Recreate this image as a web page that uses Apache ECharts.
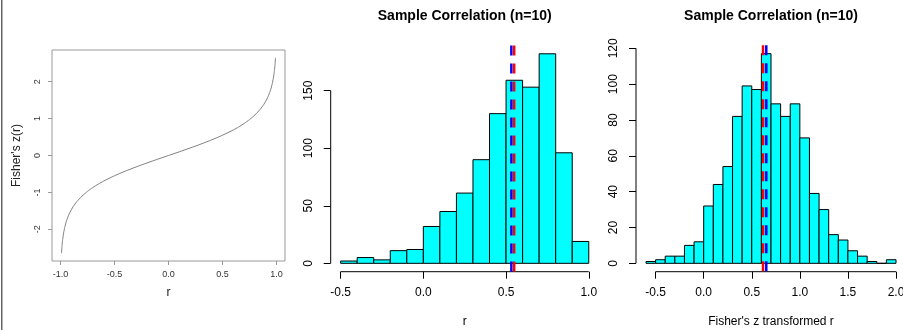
<!DOCTYPE html>
<html>
<head>
<meta charset="utf-8">
<script src="https://cdn.jsdelivr.net/npm/echarts@6/dist/echarts.min.js"></script>
<style>html,body{margin:0;padding:0;background:#fff;}#c{width:903px;height:330px;}</style>
</head>
<body>
<div id="c"></div>
<script>
// ---- data ----
const curveR = [-0.99,-0.985,-0.98,-0.975,-0.97,-0.96,-0.95,-0.94,-0.92,-0.9,-0.88,-0.85,-0.8,-0.75,-0.7,-0.65,-0.6,-0.5,-0.4,-0.3,-0.2,-0.1,0,0.1,0.2,0.3,0.4,0.5,0.6,0.65,0.7,0.75,0.8,0.85,0.88,0.9,0.92,0.94,0.95,0.96,0.97,0.975,0.98,0.985,0.99];
const curveZ = [-2.647,-2.443,-2.298,-2.185,-2.092,-1.946,-1.832,-1.738,-1.589,-1.472,-1.376,-1.256,-1.099,-0.973,-0.867,-0.775,-0.693,-0.549,-0.424,-0.310,-0.203,-0.100,0,0.100,0.203,0.310,0.424,0.549,0.693,0.775,0.867,0.973,1.099,1.256,1.376,1.472,1.589,1.738,1.832,1.946,2.092,2.185,2.298,2.443,2.647];
const leftXTicks = [-1,-0.5,0,0.5,1];
const leftYTicks = [-2,-1,0,1,2];

const midBreaks = [-0.5,-0.4,-0.3,-0.2,-0.1,0,0.1,0.2,0.3,0.4,0.5,0.6,0.7,0.8,0.9,1.0];
const midCounts = [2,5,3,11,12,32,45,61,90,130,159,153,182,96,19];
const midXTicks = [-0.5,0,0.5,1.0];
const midYTicks = [0,50,100,150];
const midBlue = 0.532, midRed = 0.549;

const rightBreaks = [-0.6,-0.5,-0.4,-0.3,-0.2,-0.1,0,0.1,0.2,0.3,0.4,0.5,0.6,0.7,0.8,0.9,1.0,1.1,1.2,1.3,1.4,1.5,1.6,1.7,1.8,1.9,2.0];
const rightCounts = [1,2,4,4,10,12,32,44,54,82,99,97,117,89,82,89,70,39,30,16,13,7,4,1,0,2];
const rightXTicks = [-0.5,0,0.5,1.0,1.5,2.0];
const rightYTicks = [0,20,40,60,80,100,120];
const rightRed = 0.617, rightBlue = 0.651;

const titleText = 'Sample Correlation (n=10)';

// ---- helpers ----
const FONT = '"Liberation Sans", Arial, Helvetica, sans-serif';
function ext(lo, hi){ const d=(hi-lo)*0.04; return [lo-d, hi+d]; }
const leftXr = [-1.078, 1.078];
const leftYr = ext(Math.min(...curveZ), Math.max(...curveZ));
const midXr = ext(midBreaks[0], midBreaks[midBreaks.length-1]);
const midYr = ext(0, Math.max(...midCounts));
const rightXr = ext(rightBreaks[0], rightBreaks[rightBreaks.length-1]);
const rightYr = ext(0, Math.max(...rightCounts));

function histData(br, ct){ return ct.map((c,i)=>[br[i], br[i+1], c]); }
function renderHist(params, api){
  const p0 = api.coord([api.value(0), api.value(2)]);
  const p1 = api.coord([api.value(1), 0]);
  return {type:'rect', shape:{x:p0[0], y:p0[1], width:p1[0]-p0[0], height:p1[1]-p0[1]},
    style:{fill:'#00FFFF', stroke:'#000', lineWidth:1}};
}
function fmt1(v){ return Number(v).toFixed(1); }

function xAxisCfg(idx, range, ticks, opts){
  return Object.assign({
    type:'value', gridIndex:idx, min:range[0], max:range[1],
    axisLine:{show:false, onZero:false}, splitLine:{show:false},
    axisTick:{show:true, inside:false, length:7, customValues:ticks, lineStyle:{color:'#000', width:1}},
    axisLabel:{show:true, customValues:ticks, margin:15, fontSize:12, fontFamily:FONT, color:'#000', formatter:fmt1}
  }, opts||{});
}
function yAxisCfg(idx, range, ticks, opts){
  return Object.assign({
    type:'value', gridIndex:idx, min:range[0], max:range[1],
    axisLine:{show:false, onZero:false}, splitLine:{show:false},
    axisTick:{show:true, inside:false, length:7, customValues:ticks, lineStyle:{color:'#000', width:1}},
    axisLabel:{show:true, customValues:ticks, rotate:90, margin:16, fontSize:12, fontFamily:FONT, color:'#000', formatter:v=>String(v)}
  }, opts||{});
}
function axisSeg(xi, yi, pts){
  return {type:'line', xAxisIndex:xi, yAxisIndex:yi, data:pts, symbol:'none', silent:true, clip:false,
    lineStyle:{color:'#000', width:1}, z:5, animation:false};
}
function vline(xi, yi, x, yr, color){
  return {type:'line', xAxisIndex:xi, yAxisIndex:yi, data:[[x, yr[1]],[x, yr[0]]], symbol:'none', silent:true,
    lineStyle:{color:color, width:2.5, type:[10,8], cap:'butt'}, z:10, animation:false};
}

const chart = echarts.init(document.getElementById('c'), null, {renderer:'canvas'});
chart.setOption({
  animation:false,
  backgroundColor:'#fff',
  textStyle:{fontFamily:FONT},
  grid:[
    {left:52, top:50, width:233, height:211, show:true, borderColor:'#999', borderWidth:1, backgroundColor:'transparent', containLabel:false, outerBoundsMode:'none'},
    {left:330.7, top:45.4, width:268, height:226.3, containLabel:false, outerBoundsMode:'none'},
    {left:636, top:45.3, width:270, height:226.4, containLabel:false, outerBoundsMode:'none'}
  ],
  xAxis:[
    xAxisCfg(0, leftXr, leftXTicks, {
      axisTick:{show:true, inside:false, length:4, customValues:leftXTicks, lineStyle:{color:'#999', width:1}},
      axisLabel:{show:true, customValues:leftXTicks, margin:9, fontSize:9, fontFamily:FONT, color:'#333', formatter:fmt1}
    }),
    xAxisCfg(1, midXr, midXTicks),
    xAxisCfg(2, rightXr, rightXTicks)
  ],
  yAxis:[
    yAxisCfg(0, leftYr, leftYTicks, {
      axisTick:{show:true, inside:false, length:4, customValues:leftYTicks, lineStyle:{color:'#999', width:1}},
      axisLabel:{show:true, customValues:leftYTicks, rotate:90, margin:10, fontSize:9, fontFamily:FONT, color:'#333', formatter:v=>String(v)}
    }),
    yAxisCfg(1, midYr, midYTicks),
    yAxisCfg(2, rightYr, rightYTicks)
  ],
  series:[
    {type:'line', xAxisIndex:0, yAxisIndex:0, data:curveR.map((r,i)=>[r, curveZ[i]]), symbol:'none', smooth:0.2,
      lineStyle:{color:'#808080', width:1}, silent:true},
    {type:'custom', xAxisIndex:1, yAxisIndex:1, data:histData(midBreaks, midCounts), renderItem:renderHist, encode:{x:[0,1], y:2}, silent:true},
    {type:'custom', xAxisIndex:2, yAxisIndex:2, data:histData(rightBreaks, rightCounts), renderItem:renderHist, encode:{x:[0,1], y:2}, silent:true},
    axisSeg(1,1,[[midXTicks[0], midYr[0]],[midXTicks[midXTicks.length-1], midYr[0]]]),
    axisSeg(1,1,[[midXr[0], midYTicks[0]],[midXr[0], midYTicks[midYTicks.length-1]]]),
    axisSeg(2,2,[[rightXTicks[0], rightYr[0]],[rightXTicks[rightXTicks.length-1], rightYr[0]]]),
    axisSeg(2,2,[[rightXr[0], rightYTicks[0]],[rightXr[0], rightYTicks[rightYTicks.length-1]]]),
    vline(1,1,midBlue, midYr, '#0000FF'),
    vline(1,1,midRed, midYr, '#FF0000'),
    vline(2,2,rightRed, rightYr, '#FF0000'),
    vline(2,2,rightBlue, rightYr, '#0000FF')
  ],
  graphic:[
    {type:'rect', shape:{x:1, y:0, width:1.5, height:330}, style:{fill:'#666'}, silent:true},
    {type:'text', x:464.7, y:16, style:{text:titleText, font:'bold 14px '+FONT, fill:'#000', align:'center', verticalAlign:'middle'}},
    {type:'text', x:771, y:16, style:{text:titleText, font:'bold 14px '+FONT, fill:'#000', align:'center', verticalAlign:'middle'}},
    {type:'text', x:464.7, y:322, style:{text:'r', font:'12px '+FONT, fill:'#000', align:'center', verticalAlign:'middle'}},
    {type:'text', x:771, y:322, style:{text:"Fisher's z transformed r", font:'12px '+FONT, fill:'#000', align:'center', verticalAlign:'middle'}},
    {type:'text', x:168.5, y:293, style:{text:'r', font:'12px '+FONT, fill:'#222', align:'center', verticalAlign:'middle'}},
    {type:'text', x:17, y:155.5, rotation:Math.PI/2, style:{text:"Fisher's z(r)", font:'12px '+FONT, fill:'#222', align:'center', verticalAlign:'middle'}}
  ]
});
</script>
</body>
</html>
